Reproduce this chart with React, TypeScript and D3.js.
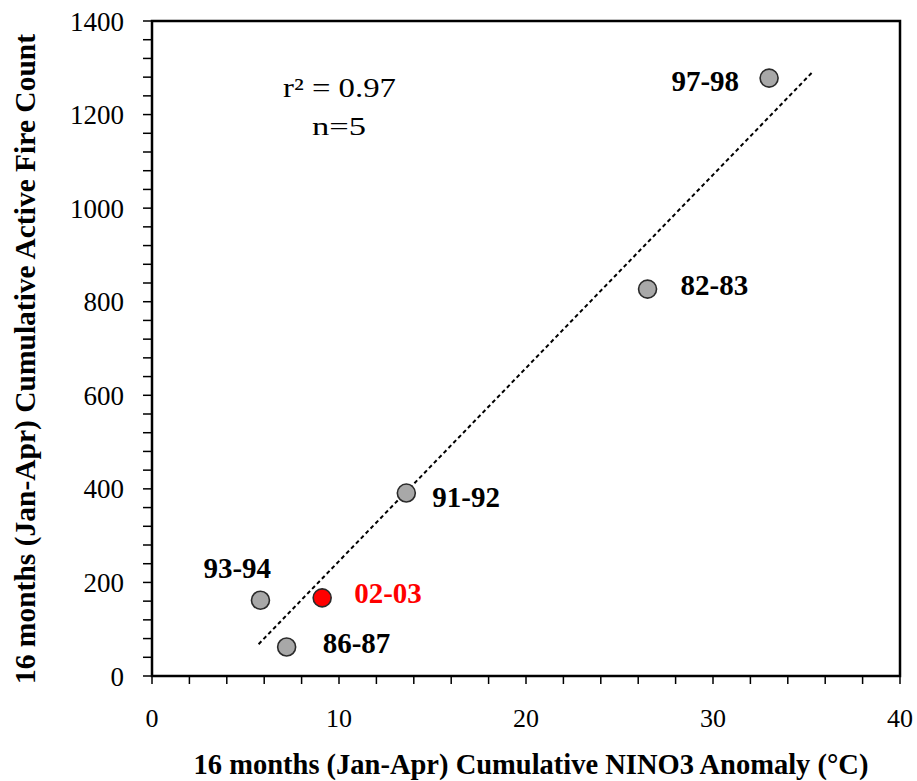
import React from "react";
import * as d3 from "d3";

const seasons = ["97-98", "82-83", "91-92", "93-94", "86-87", "02-03"];
const ninoAnomaly = [33.0, 26.5, 13.6, 5.8, 7.2, 9.1];
const fireCount = [1278, 827, 391, 162, 62, 167];
const highlighted = [false, false, false, false, false, true];
const trendX = [5.7, 35.3];
const trendY = [68, 1290];
const xTicks = [0, 10, 20, 30, 40];
const yTicks = [0, 200, 400, 600, 800, 1000, 1200, 1400];

// label placement: [dx, dy, anchor]
const labelOffsets: [number, number, string][] = [
  [-30, 13, "end"],
  [33, 6, "start"],
  [26, 14, "start"],
  [-57, -22, "start"],
  [36, 6, "start"],
  [32, 5, "start"],
];

const W = 917;
const H = 781;
const left = 152;
const right = 900;
const top = 21;
const bottom = 676;
const font = "'Liberation Serif', 'Times New Roman', Times, serif";

export default function App() {
  const x = d3.scaleLinear().domain([0, 40]).range([left, right]);
  const y = d3.scaleLinear().domain([0, 1400]).range([bottom, top]);
  const xMinor = d3.range(0, 40.001, 2);
  const yMinor = d3.range(0, 1400.001, 40);
  const line = d3
    .line<number>()
    .x((_, i) => x(trendX[i]))
    .y((d) => y(d));

  return (
    <svg
      width={W}
      height={H}
      style={{ position: "absolute", left: 0, top: 0, background: "#fff", fontFamily: font }}
    >
      <rect x={left} y={top} width={right - left} height={bottom - top} fill="none" stroke="#000" strokeWidth={2.5} />
      {xMinor.map((t) => (
        <line key={"xt" + t} x1={x(t)} x2={x(t)} y1={bottom} y2={bottom + 8} stroke="#000" strokeWidth={1.5} />
      ))}
      {yMinor.map((t) => (
        <line key={"yt" + t} x1={left - 9} x2={left} y1={y(t)} y2={y(t)} stroke="#000" strokeWidth={1.5} />
      ))}
      {xTicks.map((t) => (
        <text key={"xl" + t} x={x(t)} y={727} textAnchor="middle" fontSize={26} fill="#000">
          {t}
        </text>
      ))}
      {yTicks.map((t) => (
        <text key={"yl" + t} x={124} y={y(t) + 9.5} textAnchor="end" fontSize={27} fill="#000">
          {t}
        </text>
      ))}
      <path d={line(trendY) || ""} fill="none" stroke="#000" strokeWidth={2} strokeDasharray="4,3" />
      {seasons.map((s, i) => (
        <g key={s}>
          <circle
            cx={x(ninoAnomaly[i])}
            cy={y(fireCount[i])}
            r={9}
            fill={highlighted[i] ? "#ff0000" : "#a8a8a8"}
            stroke="#2a2a2a"
            strokeWidth={1.6}
          />
          <text
            x={x(ninoAnomaly[i]) + labelOffsets[i][0]}
            y={y(fireCount[i]) + labelOffsets[i][1]}
            textAnchor={labelOffsets[i][2] as any}
            fontSize={29}
            fontWeight="bold"
            fill={highlighted[i] ? "#ff0000" : "#000"}
          >
            {s}
          </text>
        </g>
      ))}
      <text x={283} y={97} fontSize={27} fill="#000" textLength={113} lengthAdjust="spacingAndGlyphs">
        r² = 0.97
      </text>
      <text x={312} y={135} fontSize={26} fill="#000" textLength={54} lengthAdjust="spacingAndGlyphs">
        n=5
      </text>
      <text x={531} y={774} textAnchor="middle" fontSize={28.5} fontWeight="bold" fill="#000">
        16 months (Jan-Apr) Cumulative NINO3 Anomaly (°C)
      </text>
      <text
        transform={`translate(35, ${359}) rotate(-90)`}
        textAnchor="middle"
        fontSize={29.5}
        fontWeight="bold"
        fill="#000"
      >
        16 months (Jan-Apr) Cumulative Active Fire Count
      </text>
    </svg>
  );
}
